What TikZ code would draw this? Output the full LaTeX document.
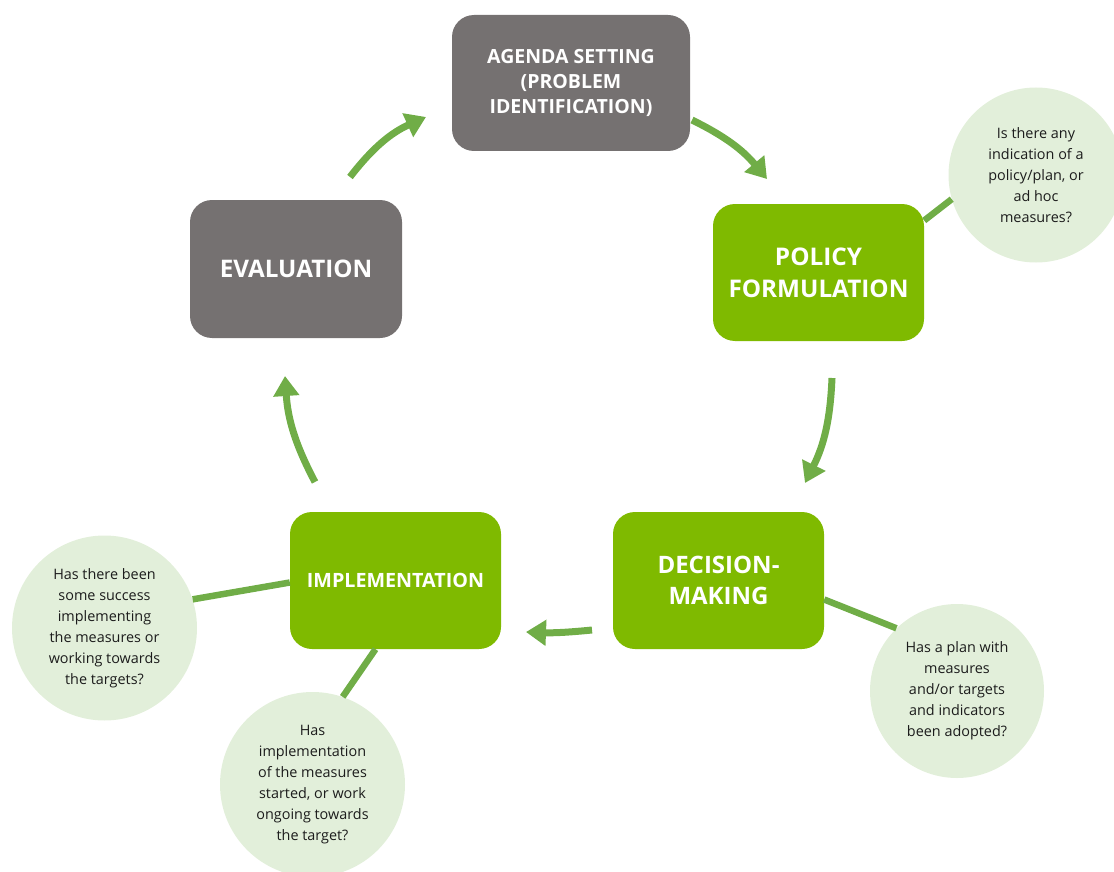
\documentclass[tikz,border=0pt]{standalone}
\usepackage{fontspec}
\setmainfont{Open Sans}
\usetikzlibrary{arrows.meta}
\definecolor{boxgray}{HTML}{757171}
\definecolor{boxgreen}{HTML}{7FBA00}
\definecolor{linegreen}{HTML}{70AD47}
\definecolor{bubblefill}{HTML}{E2EFDA}
\definecolor{bubbletext}{HTML}{1C1C1C}
\begin{document}
\begin{tikzpicture}[x=1pt,y=-1pt,
  stage/.style={rounded corners=22pt, minimum width=211pt, minimum height=137pt,
    text=white, align=center, inner sep=0pt},
  graystage/.style={stage, fill=boxgray},
  greenstage/.style={stage, fill=boxgreen},
  bubble/.style={circle, fill=bubblefill, inner sep=0pt, align=center,
    text=bubbletext, font=\fontsize{14.4}{21}\selectfont},
  link/.style={draw=linegreen, line width=6.5pt},
  flow/.style={draw=linegreen, line width=7pt,
    -{Triangle[width=25pt,length=20pt]}}]

\useasboundingbox (0,0) rectangle (1114,872);
\clip (0,0) rectangle (1114,872);

% stages of the cycle
\node[graystage, minimum width=238pt, minimum height=136pt,
  font=\bfseries\fontsize{19.5}{25}\selectfont] (agenda) at (571,83)
  {AGENDA SETTING\\(PROBLEM\\IDENTIFICATION)};
\node[graystage, minimum width=212pt, minimum height=138pt,
  font=\bfseries\fontsize{24.2}{30}\selectfont] (eval) at (296,269) {EVALUATION};
\node[greenstage, font=\bfseries\fontsize{24.3}{32}\selectfont] (policy) at (818.5,272.5)
  {POLICY\\FORMULATION};
\node[greenstage, font=\bfseries\fontsize{24}{31}\selectfont] (decision) at (718.5,580.5)
  {DECISION-\\MAKING};
\node[greenstage, font=\bfseries\fontsize{19.7}{25}\selectfont] (impl) at (395.5,580.5)
  {IMPLEMENTATION};

% guiding questions
\node[bubble, minimum size=175pt] (qpolicy) at (1036,175)
  {Is there any\\indication of a\\policy/plan, or\\ad hoc\\measures?};
\node[bubble, minimum size=174pt] (qdecision) at (957,691)
  {Has a plan with\\measures\\and/or targets\\and indicators\\been adopted?};
\node[bubble, minimum size=185pt] (qsuccess) at (104.5,628)
  {Has there been\\some success\\implementing\\the measures or\\working towards\\the targets?};
\node[bubble, minimum size=185pt] (qstarted) at (312.5,784.5)
  {Has\\implementation\\of the measures\\started, or work\\ongoing towards\\the target?};

% links from stages to questions
\draw[link] ([yshift=52pt]policy.east) -- (qpolicy.196);
\draw[link] ([yshift=-19pt]decision.east) -- (qdecision.134);
\draw[link] ([yshift=-2pt]impl.west) -- (qsuccess.18);
\draw[link] ([xshift=-20pt]impl.south) -- (qstarted.71);

% cycle arrows
\coordinate (e1) at (350,177);  \coordinate (e2) at (426,117);
\coordinate (p1) at (692,120);  \coordinate (p2) at (767,179);
\coordinate (d1) at (832,378);  \coordinate (d2) at (805,483);
\coordinate (m1) at (592,630);  \coordinate (m2) at (526,632);
\coordinate (i1) at (315,482);  \coordinate (i2) at (285,376);
\draw[flow] (e1) to[bend left=14] (e2);
\draw[flow] (p1) to[bend left=12] (p2);
\draw[flow] (d1) to[bend left=12] (d2);
\draw[flow] (m1) to[bend left=4] (m2);
\draw[flow] (i1) to[bend left=12] (i2);
\end{tikzpicture}
\end{document}
